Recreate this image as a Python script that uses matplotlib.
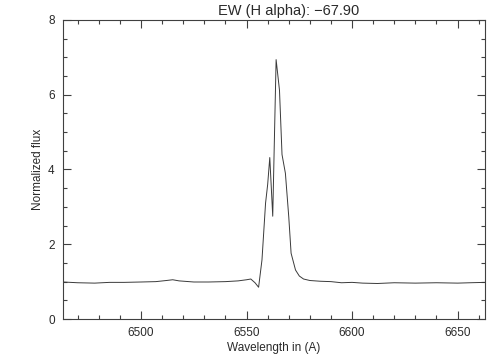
import matplotlib
matplotlib.use("Agg")
import matplotlib.pyplot as plt
from matplotlib.ticker import MultipleLocator

# Espectro (longitud de onda en A, flujo normalizado)
wave = [6463, 6470, 6478, 6485, 6492, 6500, 6507, 6512, 6515, 6518, 6525,
        6532, 6540, 6546, 6550, 6552, 6554, 6555.7, 6557.3, 6559, 6560,
        6561, 6562.4, 6564, 6565.6, 6566.8, 6568.4, 6570, 6571.1, 6573.2,
        6575, 6577, 6580, 6585, 6590, 6595, 6600, 6605, 6612, 6620, 6630,
        6640, 6650, 6656, 6663]
flux = [0.99, 0.97, 0.96, 0.98, 0.98, 0.99, 1.0, 1.03, 1.05, 1.02, 0.99,
        0.99, 1.0, 1.02, 1.05, 1.07, 0.97, 0.85, 1.58, 3.1, 3.6,
        4.32, 2.75, 6.94, 6.12, 4.4, 3.9, 2.73, 1.76, 1.31,
        1.15, 1.07, 1.03, 1.01, 1.0, 0.97, 0.98, 0.96, 0.95, 0.97, 0.96,
        0.97, 0.96, 0.97, 0.98]

title = "EW (H alpha): \u221267.90"
x_label = "Wavelength in (A)"
y_label = "Normalized flux"

plt.rcParams['font.family'] = ['Liberation Sans', 'DejaVu Sans']
text_color = '#2a2a2a'

fig = plt.figure(figsize=(5.04, 3.6), dpi=100)
ax = fig.add_axes([63 / 504, 1 - 319 / 360, 422 / 504, 299 / 360])

ax.plot(wave, flux, color='#3a3a3a', linewidth=0.7)

ax.set_xlim(6463, 6663)
ax.set_ylim(0, 8)
ax.xaxis.set_major_locator(MultipleLocator(50))
ax.xaxis.set_minor_locator(MultipleLocator(10))
ax.yaxis.set_major_locator(MultipleLocator(2))
ax.yaxis.set_minor_locator(MultipleLocator(0.5))
ax.tick_params(which='both', direction='in', top=True, right=True,
               colors='#404040', labelcolor=text_color, labelsize=8.5, width=0.8)
ax.tick_params(which='major', length=6, pad=6)
ax.tick_params(which='minor', length=3)
for s in ax.spines.values():
    s.set_color('#404040')
    s.set_linewidth(0.8)

ax.set_xlabel(x_label, fontsize=8.5, labelpad=2, color=text_color)
ax.set_ylabel(y_label, fontsize=8.5, labelpad=3, color=text_color)
fig.text(289 / 504, 1 - 11 / 360, title, fontsize=10.5, ha='center',
         va='center', color=text_color)

fig.savefig("out.png", dpi=100)
